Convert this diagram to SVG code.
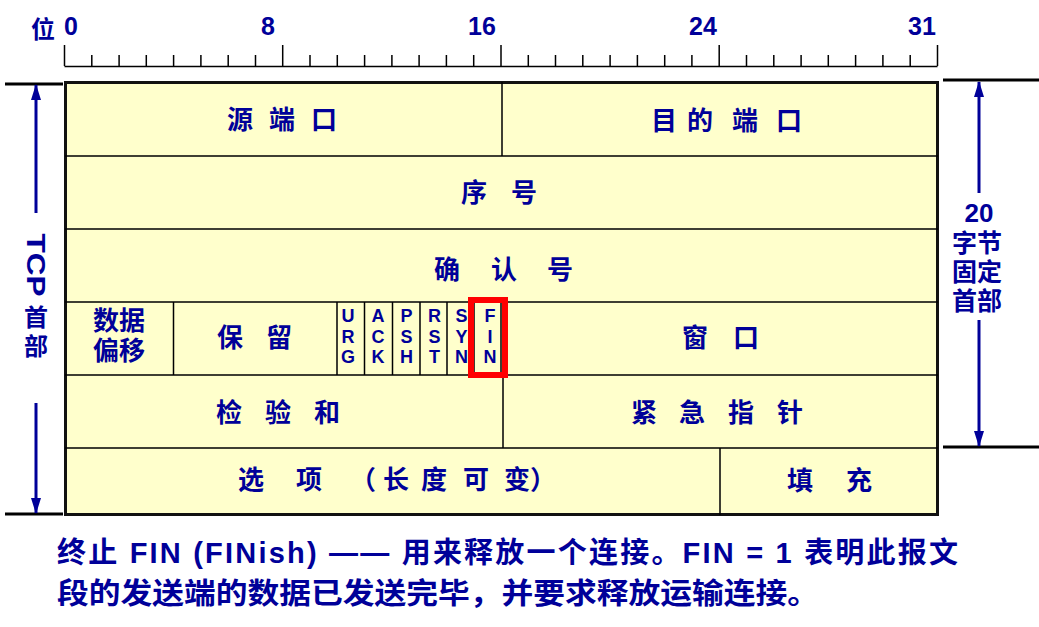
<svg xmlns="http://www.w3.org/2000/svg" width="1039" height="627" viewBox="0 0 1039 627">
<style>
.cj{font-family:"Noto Sans CJK SC","Liberation Sans",sans-serif;font-weight:bold;fill:#000099;dominant-baseline:central}
.la{font-family:"Liberation Sans","Noto Sans CJK SC",sans-serif;font-weight:bold;fill:#000099}
.st{font-family:"Liberation Sans","Noto Sans CJK SC",sans-serif;font-weight:bold;fill:#000099;dominant-baseline:central}
.ln{stroke:#000;stroke-width:1.5;fill:none}
.bk{stroke:#000;stroke-width:3;fill:none}
.ar{stroke:#000099;stroke-width:3;fill:none;marker-end:url(#ah)}
</style>
<defs>
<marker id="ah" markerUnits="userSpaceOnUse" markerWidth="16" markerHeight="10" refX="15" refY="5" orient="auto">
<path d="M0,0 L16,5 L0,10 z" fill="#000099"/>
</marker>
</defs>
<rect width="1039" height="627" fill="#fff"/>
<g id="ruler">
<path class="ln" d="M64.5,66.5 H937.5 M64.5,45 V66 M91.8,55 V66 M119.1,55 V66 M146.3,55 V66 M173.6,55 V66 M200.9,55 V66 M228.2,55 V66 M255.5,55 V66 M282.7,45 V66 M310,55 V66 M337.3,55 V66 M364.6,55 V66 M391.9,55 V66 M419.1,55 V66 M446.4,55 V66 M473.7,55 V66 M501,45 V66 M528.3,55 V66 M555.5,55 V66 M582.8,55 V66 M610.1,55 V66 M637.4,55 V66 M664.7,55 V66 M691.9,55 V66 M719.2,45 V66 M746.5,55 V66 M773.8,55 V66 M801.1,55 V66 M828.3,55 V66 M855.6,55 V66 M882.9,55 V66 M910.2,55 V66 M937.5,45 V66"/>
<text class="cj" x="31" y="27" font-size="24">位</text>
<text class="la" x="64" y="35" font-size="25">0</text>
<text class="la" x="268" y="35" font-size="25" text-anchor="middle">8</text>
<text class="la" x="482" y="35" font-size="25" text-anchor="middle">16</text>
<text class="la" x="703" y="35" font-size="25" text-anchor="middle">24</text>
<text class="la" x="922" y="35" font-size="25" text-anchor="middle">31</text>
</g>
<g id="header-box">
<rect x="65.5" y="82.5" width="872" height="432" fill="#FFFFCC" stroke="#111" stroke-width="3"/>
<path class="ln" d="M65,156 H938 M65,229 H938 M65,302 H938 M65,375 H938 M65,448 H938 M502,82 V156 M173.5,302 V375 M337,302 V375 M364.5,302 V375 M392.5,302 V375 M420,302 V375 M447,302 V375 M474,302 V375 M501,302 V375 M503,375 V448 M720,448 V515"/>
</g>
<g id="src-port"><text class="cj" font-size="26" x="227 269 311" y="117">源端口</text></g>
<g id="dst-port"><text class="cj" font-size="26" x="651 687 732 776" y="118">目的端口</text></g>
<g id="seq"><text class="cj" font-size="26" x="461 511" y="190">序号</text></g>
<g id="ack-num"><text class="cj" font-size="26" x="434 491 547" y="267">确认号</text></g>
<g id="data-offset">
<text class="st" font-size="26" x="93 119" y="321">数据</text>
<text class="st" font-size="26" x="93 119" y="351">偏移</text>
</g>
<g id="reserved"><text class="cj" font-size="26" x="217 266" y="335">保留</text></g>
<g id="flags" class="la" font-size="18" text-anchor="middle">
<text x="348" y="322">U</text><text x="348" y="342.5">R</text><text x="348" y="363">G</text>
<text x="378" y="322">A</text><text x="378" y="342.5">C</text><text x="378" y="363">K</text>
<text x="406.5" y="322">P</text><text x="406.5" y="342.5">S</text><text x="406.5" y="363">H</text>
<text x="434.5" y="322">R</text><text x="434.5" y="342.5">S</text><text x="434.5" y="363">T</text>
<text x="461.5" y="322">S</text><text x="461.5" y="342.5">Y</text><text x="461.5" y="363">N</text>
<text x="490" y="322">F</text><text x="490" y="342.5">I</text><text x="490" y="363">N</text>
</g>
<g id="fin-highlight"><rect x="471" y="300" width="34" height="75" fill="none" stroke="#FF0000" stroke-width="6"/></g>
<g id="window"><text class="cj" font-size="26" x="682 733" y="335">窗口</text></g>
<g id="checksum"><text class="cj" font-size="26" x="216 265 314" y="410">检验和</text></g>
<g id="urgent"><text class="cj" font-size="26" x="631 679 728 777" y="410">紧急指针</text></g>
<g id="options"><text class="cj" font-size="26" x="238 296 350 383 421 463 504 530" y="477">选项（长度可变）</text></g>
<g id="padding"><text class="cj" font-size="26" x="787 846" y="478">填充</text></g>
<g id="tcp-header-label">
<path class="bk" d="M5,84 H63 M5,514 H63"/>
<text class="la" font-size="25" transform="translate(36,265) rotate(90)" text-anchor="middle" dominant-baseline="central" textLength="63" lengthAdjust="spacingAndGlyphs">TCP</text>
<text class="st" font-size="24" x="36" y="317" text-anchor="middle">首</text>
<text class="st" font-size="24" x="36" y="346" text-anchor="middle">部</text>
</g>
<g id="fixed-header-label">
<text class="la" font-size="26" x="979" y="222" text-anchor="middle">20</text>
<text class="st" font-size="25" x="977" y="243" text-anchor="middle">字节</text>
<text class="st" font-size="25" x="977" y="272" text-anchor="middle">固定</text>
<text class="st" font-size="25" x="977" y="301" text-anchor="middle">首部</text>
<path class="bk" d="M943,80 H1039 M943,447 H1039"/>
</g>
<g id="connectors">
<line class="ar" x1="36" y1="213" x2="36" y2="85"/>
<line class="ar" x1="36" y1="403" x2="36" y2="513"/>
<line class="ar" x1="979" y1="193" x2="979" y2="82"/>
<line class="ar" x1="979" y1="320" x2="979" y2="446"/>
</g>
<g id="caption">
<text class="la" font-size="29" x="57" y="553" dominant-baseline="central" textLength="901">终止 FIN (FINish) —— 用来释放一个连接。FIN = 1 表明此报文</text>
<text class="cj" font-size="29" x="57" y="591" textLength="762" lengthAdjust="spacingAndGlyphs">段的发送端的数据已发送完毕，并要求释放运输连接。</text>
</g>
</svg>
